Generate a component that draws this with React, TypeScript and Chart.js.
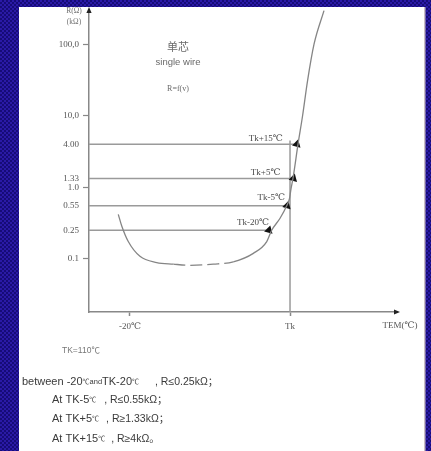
import { useEffect, useRef } from 'react';
import { Chart, registerables } from 'chart.js';
Chart.register(...registerables);

// ---- axis data ----
const xAxisMin = -53.3;
const xAxisMax = 196.9;
const yAxisMin = 0.018;
const yAxisMax = 301;
const xTickValues = [-20, 110];
const xTickLabels = ['-20℃', 'Tk'];
const yTickValues = [0.1, 0.25, 0.55, 1, 1.33, 4, 10, 100];
const yTickLabels = ['0.1', '0.25', '0.55', '1.0', '1.33', '4.00', '10,0', '100,0'];
const yDecades = [0.1, 1, 10, 100];
const tkTemp = 110;
const tkLineTop = 4.5;

// ---- threshold lines ----
const thresholdLevels = [0.25, 0.55, 1.33, 4.0];
const thresholdEndTemps = [92.9, 107.6, 112.8, 115.6];
const thresholdNames = ['Tk-20℃', 'Tk-5℃', 'Tk+5℃', 'Tk+15℃'];

// ---- R = f(T) curve ----
const curveTemps = [-29.5, -26.7, -21.4, -11.9, 1.7, 15.2, 28.7, 47.7, 63.9, 80.2, 91.1, 95.1, 101.9, 107.3, 109.6, 110.8, 112.4, 116.5, 120.2, 124.2, 129.5, 137.6];
const curveR = [0.418, 0.287, 0.174, 0.108, 0.0885, 0.084, 0.081, 0.084, 0.0906, 0.119, 0.174, 0.25, 0.368, 0.55, 0.7, 0.95, 1.33, 4.0, 10, 30.5, 100, 295];
const dashFrom = 15.2;
const dashTo = 63.9;

// ---- notes ----
const noteHead = 'TK=110℃';
const noteConditions: [string, number][][] = [
  [['between -20', 11], ['℃', 7], ['and', 7.5], ['TK-20', 11], ['℃', 7]],
  [['At TK-5', 11], ['℃', 7]],
  [['At TK+5', 11], ['℃', 7]],
  [['At TK+15', 11], ['℃', 7]],
];
const noteLimits = [', R≤0.25kΩ；', ', R≤0.55kΩ；', ', R≥1.33kΩ；', ', R≥4kΩ。'];

const SERIF = '"Liberation Serif", "DejaVu Serif", serif';
const SANS = '"Liberation Sans", Arial, "Noto Sans CJK SC", sans-serif';

function makePattern(ctx: CanvasRenderingContext2D) {
  const c = document.createElement('canvas');
  c.width = 4;
  c.height = 4;
  const p = c.getContext('2d')!;
  p.fillStyle = '#160b78';
  p.fillRect(0, 0, 4, 4);
  p.fillStyle = '#2a1aa6';
  p.fillRect(0, 0, 2, 2);
  p.fillRect(2, 2, 2, 2);
  return ctx.createPattern(c, 'repeat')!;
}

const decorPlugin = {
  id: 'decor',
  beforeDraw(chart: any) {
    const ctx = chart.ctx as CanvasRenderingContext2D;
    ctx.save();
    ctx.fillStyle = makePattern(ctx);
    ctx.fillRect(0, 0, chart.width, chart.height);
    ctx.fillStyle = '#ffffff';
    ctx.fillRect(19, 7, 405, chart.height - 7);
    ctx.fillStyle = '#c8bcc4';
    ctx.fillRect(424, 7, 1.5, chart.height - 7);
    ctx.restore();
  },
  afterDraw(chart: any) {
    const ctx = chart.ctx as CanvasRenderingContext2D;
    const { left, right, top, bottom } = chart.chartArea;
    const xs = chart.scales.x;
    const ys = chart.scales.y;
    ctx.save();
    // axis arrowheads
    ctx.fillStyle = '#222';
    ctx.beginPath();
    ctx.moveTo(left, top - 3);
    ctx.lineTo(left - 2.6, top + 3);
    ctx.lineTo(left + 2.6, top + 3);
    ctx.closePath();
    ctx.fill();
    ctx.beginPath();
    ctx.moveTo(right + 3, bottom);
    ctx.lineTo(right - 3, bottom - 2.6);
    ctx.lineTo(right - 3, bottom + 2.6);
    ctx.closePath();
    ctx.fill();

    // axis titles
    ctx.fillStyle = '#707070';
    ctx.textAlign = 'center';
    ctx.textBaseline = 'middle';
    ctx.font = `7.5px ${SERIF}`;
    ctx.fillText('R(Ω)', left - 15, 11);
    ctx.fillText('(kΩ)', left - 15, 22);
    ctx.fillStyle = '#555';
    ctx.font = `9px ${SERIF}`;
    ctx.fillText('TEM(℃)', right + 3, bottom + 14);

    // title block
    ctx.fillStyle = '#6a6a6a';
    ctx.font = `11px "Noto Sans CJK SC", sans-serif`;
    ctx.fillText('单芯', 178, 47);
    ctx.font = `9.5px ${SANS}`;
    ctx.fillText('single wire', 178, 62);
    ctx.font = `8px ${SERIF}`;
    ctx.fillText('R=f(v)', 178, 89);

    // threshold labels
    const labelDx = [0, -2, -13, -14];
    const labelDy = [-8, -8, -6, -6];
    ctx.fillStyle = '#4a4a4a';
    ctx.font = `9px ${SERIF}`;
    ctx.textAlign = 'right';
    thresholdLevels.forEach((lv, i) => {
      const px = xs.getPixelForValue(thresholdEndTemps[i]) + labelDx[i];
      const py = ys.getPixelForValue(lv) + labelDy[i];
      ctx.fillText(thresholdNames[i], px, py);
    });

    // notes
    ctx.textAlign = 'left';
    ctx.fillStyle = '#777';
    ctx.font = `8.5px ${SANS}`;
    ctx.fillText(noteHead, 62, 351);
    const lineX = [22, 52, 52, 52];
    const lineY = [382, 400, 419, 439];
    const gap = [16, 8, 7, 6];
    ctx.fillStyle = '#3a3a3a';
    noteConditions.forEach((runs, i) => {
      let x = lineX[i];
      runs.forEach(([t, s]) => {
        ctx.font = `${s}px ${SANS}`;
        ctx.fillText(t, x, lineY[i]);
        x += ctx.measureText(t).width;
      });
      ctx.font = `10.5px ${SANS}`;
      ctx.fillText(noteLimits[i], x + gap[i], lineY[i]);
    });
    ctx.restore();
  },
};

export default function App() {
  const ref = useRef<HTMLCanvasElement>(null);
  useEffect(() => {
    document.body.style.margin = '0';
    const canvas = ref.current!;
    const datasets: any[] = [
      {
        data: curveTemps.map((t, i) => ({ x: t, y: curveR[i] })),
        borderColor: '#858585',
        borderWidth: 1.3,
        pointRadius: 0,
        cubicInterpolationMode: 'monotone',
        segment: {
          borderDash: (c: any) =>
            c.p0.parsed.x >= dashFrom && c.p1.parsed.x <= dashTo ? [12, 5] : undefined,
        },
      },
      ...thresholdLevels.map((lv, i) => ({
        data: [
          { x: xAxisMin, y: lv },
          { x: thresholdEndTemps[i], y: lv },
        ],
        borderColor: '#9a9a9a',
        borderWidth: 1.5,
        pointRadius: [0, 5],
        pointStyle: 'triangle',
        pointRotation: 135,
        pointBackgroundColor: '#111',
        pointBorderColor: '#111',
        pointBorderWidth: 0,
      })),
      {
        data: [
          { x: tkTemp, y: yAxisMin },
          { x: tkTemp, y: tkLineTop },
        ],
        borderColor: '#9a9a9a',
        borderWidth: 1.5,
        pointRadius: 0,
      },
    ];
    const chart = new Chart(canvas, {
      type: 'line',
      data: { datasets },
      options: {
        animation: false,
        responsive: false,
        devicePixelRatio: 1,
        layout: { padding: { left: 0, top: 10, right: 34, bottom: 119 } },
        plugins: { legend: { display: false }, tooltip: { enabled: false } },
        scales: {
          x: {
            type: 'linear',
            min: xAxisMin,
            max: xAxisMax,
            afterBuildTicks: (s: any) => {
              s.ticks = xTickValues.map((v) => ({ value: v }));
            },
            afterFit: (s: any) => {
              s.height = 20;
            },
            ticks: {
              autoSkip: false,
              maxRotation: 0,
              padding: 5,
              color: '#555',
              font: { family: SERIF, size: 9 },
              callback: (_v: any, i: number) => xTickLabels[i],
            },
            grid: { drawOnChartArea: false, drawTicks: true, tickLength: 4, tickColor: '#888', tickWidth: 1.5 },
            border: { color: '#888', width: 1.5 },
          },
          y: {
            type: 'logarithmic',
            min: yAxisMin,
            max: yAxisMax,
            afterBuildTicks: (s: any) => {
              s.ticks = yTickValues.map((v) => ({ value: v }));
            },
            afterFit: (s: any) => {
              s.width = 89;
            },
            ticks: {
              autoSkip: false,
              padding: 4,
              color: '#555',
              font: { family: SERIF, size: 9 },
              callback: (_v: any, i: number) => yTickLabels[i],
            },
            grid: {
              drawOnChartArea: false,
              drawTicks: true,
              tickLength: 6,
              tickWidth: 1.2,
              tickColor: (c: any) => (c.tick && yDecades.includes(c.tick.value) ? '#888' : 'rgba(0,0,0,0)'),
            },
            border: { color: '#888', width: 1.5 },
          },
        },
      } as any,
      plugins: [decorPlugin],
    });
    return () => chart.destroy();
  }, []);
  return <canvas ref={ref} width={431} height={451} style={{ display: 'block', width: 431, height: 451 }} />;
}
